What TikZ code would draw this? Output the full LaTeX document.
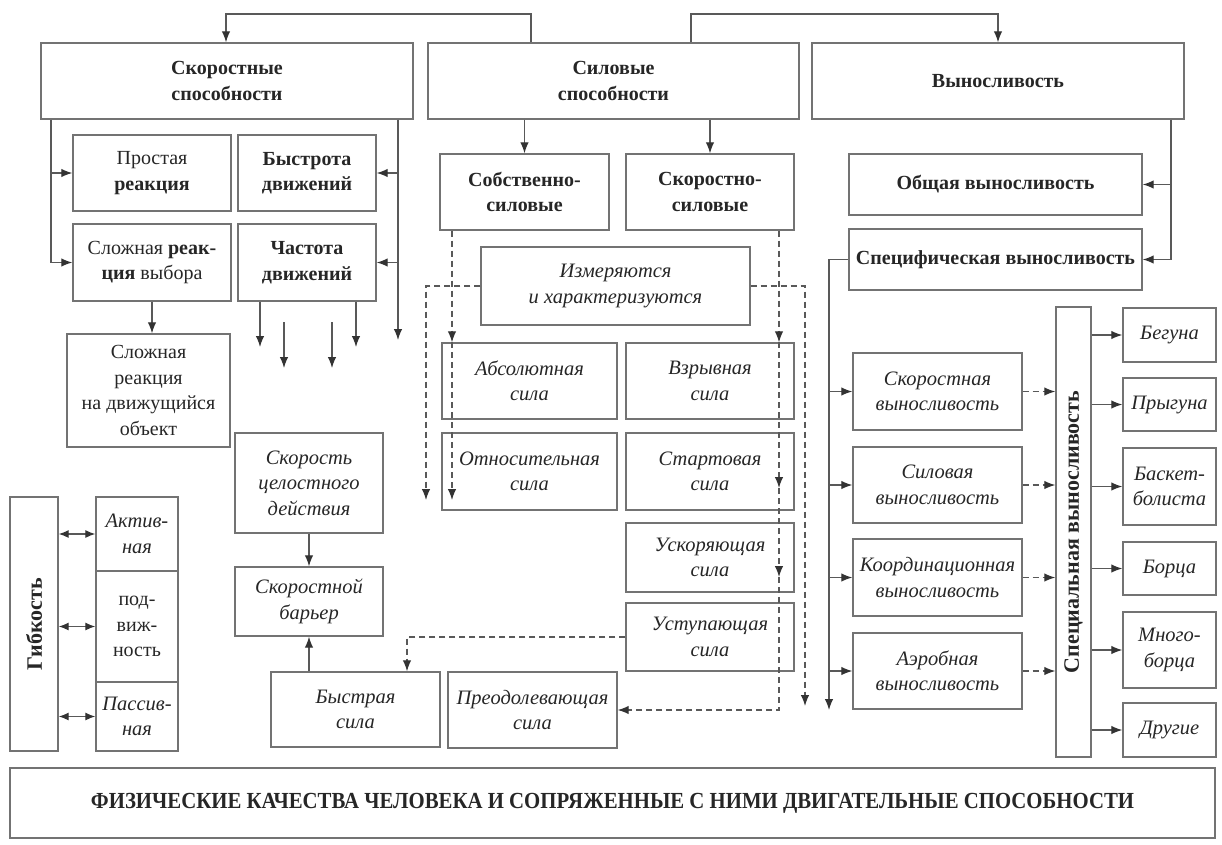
\documentclass[tikz,border=0pt]{standalone}
\usepackage{fontspec}
\setmainfont{Liberation Serif}
\usepackage{graphicx}
\usetikzlibrary{arrows.meta}
\tikzset{
  bx/.style={draw=black!55, line width=1.4pt, inner sep=1pt, align=center, text=black!85,
    font=\fontsize{20}{25.5}\selectfont},
  bxb/.style={bx, font=\fontsize{20}{25.5}\selectfont\bfseries},
  bxi/.style={bx, font=\fontsize{20.5}{25.5}\selectfont\itshape},
  ln/.style={draw=black!65, line width=1.2pt},
  arr/.style={ln, -{Latex[length=11pt,width=8.5pt,color=black!80]}},
  darr/.style={ln, {Latex[length=10pt,width=8pt,color=black!80]}-{Latex[length=10pt,width=8pt,color=black!80]}},
  dsh/.style={dash pattern=on 6pt off 4pt},
}
\newcommand\mkbox[7][bx]{\node[#1, minimum width={#5-#3}, minimum height={#6-#4}] (#2) at ({(#3+#5)/2},{(#4+#6)/2}) {#7};}
\begin{document}
\begin{tikzpicture}[x=1pt,y=-1pt]
\useasboundingbox (0,0) rectangle (1222,844);
% top level
\mkbox[bxb]{sk}{41}{43}{413}{119}{Скоростные\\способности}
\mkbox[bxb]{sil}{428}{43}{799}{119}{Силовые\\способности}
\mkbox[bxb]{vyn}{812}{43}{1184}{119}{Выносливость}
% speed
\mkbox{prost}{73}{135}{231}{211}{Простая\\\textbf{реакция}}
\mkbox[bxb]{bystr}{238}{135}{376}{211}{Быстрота\\движений}
\mkbox{slvyb}{73}{224}{231}{301}{Сложная \textbf{реак-}\\\textbf{ция} выбора}
\mkbox[bxb]{chast}{238}{224}{376}{301}{Частота\\движений}
\mkbox{sldv}{67}{334}{230}{447}{Сложная\\реакция\\на движущийся\\объект}
\mkbox[bxi]{celost}{235}{433}{383}{533}{Скорость\\целостного\\действия}
\mkbox[bxi]{barier}{235}{567}{383}{636}{Скоростной\\барьер}
\mkbox[bxi]{bystsila}{271}{672}{440}{747}{Быстрая\\сила}
\mkbox[bxi]{preod}{448}{672}{617}{748}{Преодолевающая\\сила}
% flexibility
\mkbox[bxb]{gib}{10}{497}{58}{751}{\rotatebox{90}{\fontsize{22}{25}\selectfont Гибкость}}
\mkbox[bxi]{akt}{96}{497}{178}{571}{Актив-\\ная}
\mkbox{podv}{96}{571}{178}{682}{под-\\виж-\\ность}
\mkbox[bxi]{pass}{96}{682}{178}{751}{Пассив-\\ная}
% strength
\mkbox[bxb]{sobs}{440}{154}{609}{230}{Собственно-\\силовые}
\mkbox[bxb]{skor}{626}{154}{794}{230}{Скоростно-\\силовые}
\mkbox[bxi]{izm}{481}{247}{750}{325}{Измеряются\\и характеризуются}
\mkbox[bxi]{abs}{442}{343}{617}{419}{Абсолютная\\сила}
\mkbox[bxi]{vzr}{626}{343}{794}{419}{Взрывная\\сила}
\mkbox[bxi]{otn}{442}{433}{617}{510}{Относительная\\сила}
\mkbox[bxi]{start}{626}{433}{794}{510}{Стартовая\\сила}
\mkbox[bxi]{usk}{626}{523}{794}{592}{Ускоряющая\\сила}
\mkbox[bxi]{ust}{626}{603}{794}{671}{Уступающая\\сила}
% endurance
\mkbox[bxb]{obsh}{849}{154}{1142}{215}{Общая выносливость}
\mkbox[bxb]{spec}{849}{229}{1142}{290}{Специфическая выносливость}
\mkbox[bxi]{skv}{853}{353}{1022}{430}{Скоростная\\выносливость}
\mkbox[bxi]{silv}{853}{447}{1022}{523}{Силовая\\выносливость}
\mkbox[bxi]{koord}{853}{539}{1022}{616}{Координационная\\выносливость}
\mkbox[bxi]{aer}{853}{633}{1022}{709}{Аэробная\\выносливость}
\mkbox[bxb]{spc}{1056}{307}{1091}{757}{\rotatebox{90}{\fontsize{22}{25}\selectfont Специальная выносливость}}
\mkbox[bxi]{beg}{1123}{308}{1216}{362}{Бегуна}
\mkbox[bxi]{pryg}{1123}{378}{1216}{431}{Прыгуна}
\mkbox[bxi]{bask}{1123}{448}{1216}{525}{Баскет-\\болиста}
\mkbox[bxi]{borc}{1123}{542}{1216}{595}{Борца}
\mkbox[bxi]{mnog}{1123}{612}{1216}{688}{Много-\\борца}
\mkbox[bxi]{drug}{1123}{703}{1216}{757}{Другие}
% title
\mkbox{title}{10}{768}{1215}{838}{\resizebox{1043pt}{\height}{\fontsize{23}{23}\selectfont\bfseries ФИЗИЧЕСКИЕ КАЧЕСТВА ЧЕЛОВЕКА И СОПРЯЖЕННЫЕ С НИМИ ДВИГАТЕЛЬНЫЕ СПОСОБНОСТИ}}

% ---- connectors ----
\coordinate (ta) at (531,14); \coordinate (tb) at (226,14);
\coordinate (tc) at (691,14); \coordinate (td) at (998,14);
\draw[arr] (sil.north -| ta) -- (ta) -- (tb) -- (sk.north -| tb);
\draw[arr] (sil.north -| tc) -- (tc) -- (td) -- (vyn.north -| td);

\coordinate (la) at (51,0);
\draw[arr] (sk.south -| la) |- (slvyb.west);
\draw[arr] (prost.west -| la) -- (prost.west);
\coordinate (ra) at (398,340);
\draw[arr] (sk.south -| ra) -- (ra);
\draw[arr] (bystr.east -| ra) -- (bystr.east);
\draw[arr] (chast.east -| ra) -- (chast.east);

\coordinate (c1) at (260,347); \coordinate (c4) at (356,347);
\coordinate (c2a) at (284,322); \coordinate (c2) at (284,368);
\coordinate (c3a) at (332,322); \coordinate (c3) at (332,368);
\draw[arr] (chast.south -| c1) -- (c1);
\draw[arr] (chast.south -| c4) -- (c4);
\draw[arr] (c2a) -- (c2);
\draw[arr] (c3a) -- (c3);

\draw[arr] (slvyb.south) -- (slvyb.south |- sldv.north);

\draw[darr] (gib.east |- akt.west) -- (akt.west);
\draw[darr] (gib.east |- podv.west) -- (podv.west);
\draw[darr] (gib.east |- pass.west) -- (pass.west);

\draw[arr] (celost.south) -- (barier.north);
\draw[arr] (bystsila.north -| barier.south) -- (barier.south);

\draw[arr] (sil.south -| sobs.north) -- (sobs.north);
\draw[arr] (sil.south -| skor.north) -- (skor.north);

% dashed connectors
\coordinate (da) at (452,500);
\draw[arr,dsh] (sobs.south -| da) -- (abs.north -| da);
\draw[arr,dsh] (abs.north -| da) -- (da);
\coordinate (db1) at (779,488); \coordinate (db2) at (779,577); \coordinate (db) at (779,0);
\draw[arr,dsh] (skor.south -| db) -- (vzr.north -| db);
\draw[arr,dsh] (vzr.north -| db) -- (db1);
\draw[arr,dsh] (db1) -- (db2);
\draw[arr,dsh] (db2) |- (preod.east);
\coordinate (dc) at (407,0);
\draw[arr,dsh] (ust.west) -| (bystsila.north -| dc);
\coordinate (dd) at (426,500);
\draw[arr,dsh] (izm.west) -| (dd);
\coordinate (de) at (805,706);
\draw[arr,dsh] (izm.east) -| (de);

% endurance connectors
\coordinate (va) at (1171,0);
\draw[arr] (vyn.south -| va) |- (spec.east);
\draw[arr] (obsh.east -| va) -- (obsh.east);
\coordinate (vb) at (829,710);
\draw[arr] (spec.west) -| (vb);
\foreach \n in {skv,silv,koord,aer}{
  \draw[arr] (\n.west -| vb) -- (\n.west);
  \draw[arr,dsh] (\n.east) -- (\n.east -| spc.west);
}
\foreach \n in {beg,pryg,bask,borc,mnog,drug}{
  \draw[arr] (\n.west -| spc.east) -- (\n.west);
}
\end{tikzpicture}
\end{document}
